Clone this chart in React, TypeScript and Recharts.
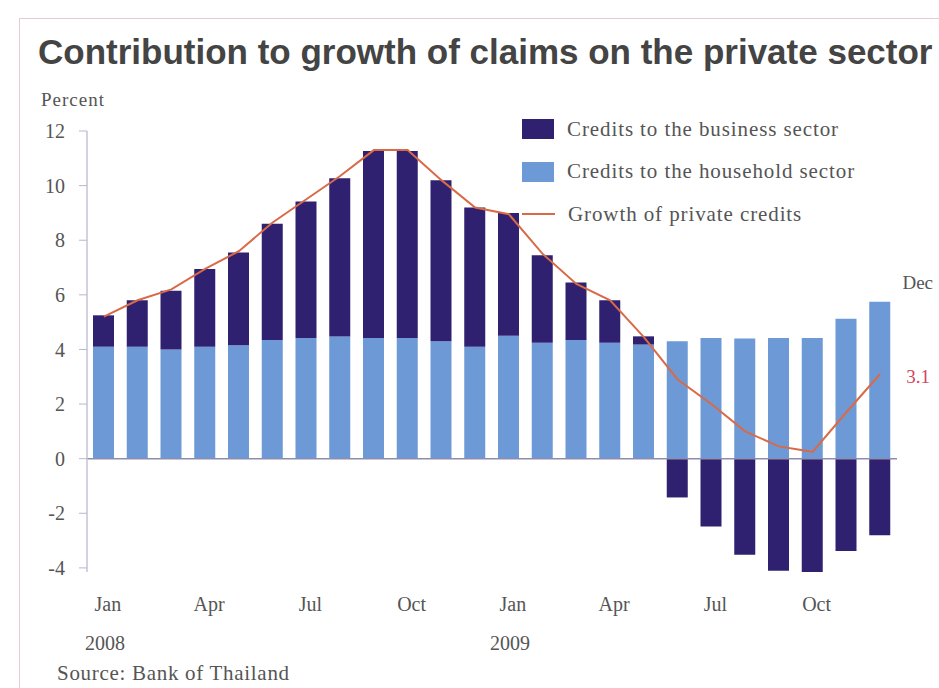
import {
  ComposedChart,
  Bar,
  Line,
  XAxis,
  YAxis,
  ReferenceLine,
  LabelList,
} from 'recharts';

const months = [
  'Jan', 'Feb', 'Mar', 'Apr', 'May', 'Jun', 'Jul', 'Aug', 'Sep', 'Oct', 'Nov', 'Dec',
  'Jan', 'Feb', 'Mar', 'Apr', 'May', 'Jun', 'Jul', 'Aug', 'Sep', 'Oct', 'Nov', 'Dec',
];
const years = [
  '2008', '', '', '', '', '', '', '', '', '', '', '',
  '2009', '', '', '', '', '', '', '', '', '', '', '',
];
const household = [
  4.1, 4.1, 4.0, 4.1, 4.15, 4.35, 4.42, 4.47, 4.42, 4.42, 4.3, 4.1,
  4.5, 4.25, 4.35, 4.25, 4.18, 4.3, 4.42, 4.4, 4.42, 4.42, 5.12, 5.75,
];
const business = [
  1.15, 1.7, 2.15, 2.85, 3.4, 4.25, 5.0, 5.8, 6.85, 6.85, 5.9, 5.1,
  4.5, 3.2, 2.1, 1.55, 0.3, -1.42, -2.48, -3.52, -4.1, -4.15, -3.38, -2.8,
];
const growth = [
  5.2, 5.8, 6.2, 6.95, 7.6, 8.65, 9.5, 10.35, 11.3, 11.3, 10.2, 9.2,
  8.95, 7.5, 6.4, 5.8, 4.45, 2.9, 2.0, 1.0, 0.45, 0.25, 1.7, 3.1,
];
const yTicks = [-4, -2, 0, 2, 4, 6, 8, 10, 12];
const shownMonths = ['Jan', 'Apr', 'Jul', 'Oct'];

const data = months.map((m, i) => ({
  key: `${m}-${i}`,
  month: m,
  year: years[i],
  household: household[i],
  business: business[i],
  growth: growth[i],
}));

const serif = '"Liberation Serif", "DejaVu Serif", serif';
const textGrey = '#555';
const navy = '#2f2170';
const lightBlue = '#6d9ad6';
const lineColor = '#d96a48';

const MonthTick = (props: any) => {
  const { x, y, payload } = props;
  const d = data[payload.index];
  if (!d || !shownMonths.includes(d.month)) return null;
  return (
    <g>
      <text x={x + 4} y={y} dy={31} textAnchor="middle" fontFamily={serif} fontSize={20} fill={textGrey}>
        {d.month}
      </text>
      {d.year && (
        <text x={x + 1} y={y} dy={70} textAnchor="middle" fontFamily={serif} fontSize={20} fill={textGrey}>
          {d.year}
        </text>
      )}
    </g>
  );
};

const DecLabel = (props: any) => {
  const { x, y, width, index } = props;
  if (index !== data.length - 1) return null;
  return (
    <text x={x + width / 2 + 38} y={y - 13} textAnchor="middle" fontFamily={serif} fontSize={19} fill={textGrey}>
      Dec
    </text>
  );
};

const LastValueLabel = (props: any) => {
  const { x, y, index, value } = props;
  if (index !== data.length - 1) return null;
  return (
    <text x={x + 38} y={y + 9} textAnchor="middle" fontFamily={serif} fontSize={19} fill="#d0455a">
      {value}
    </text>
  );
};

const legendItems = [
  { label: 'Credits to the business sector', color: navy, kind: 'box' },
  { label: 'Credits to the household sector', color: lightBlue, kind: 'box' },
  { label: 'Growth of private credits', color: lineColor, kind: 'line' },
];

export default function App() {
  return (
    <div
      style={{
        position: 'absolute',
        left: 0,
        top: 0,
        width: 939,
        height: 688,
        background: '#fff',
        overflow: 'hidden',
        fontFamily: serif,
      }}
    >
      <div
        style={{
          position: 'absolute',
          left: 19,
          top: 18,
          width: 960,
          height: 720,
          border: '1.5px solid #e9c9d2',
        }}
      />
      <div
        style={{
          position: 'absolute',
          left: 38,
          top: 34,
          fontFamily: '"Liberation Sans", Arial, sans-serif',
          fontWeight: 'bold',
          fontSize: 35,
          lineHeight: '36px',
          color: '#444',
          whiteSpace: 'nowrap',
        }}
      >
        Contribution to growth of claims on the private sector
      </div>
      <div style={{ position: 'absolute', left: 41, top: 89, fontSize: 19, letterSpacing: 1, color: textGrey }}>
        Percent
      </div>
      <div
        style={{
          position: 'absolute',
          left: 57,
          top: 661,
          fontSize: 21,
          letterSpacing: 0.7,
          color: textGrey,
          whiteSpace: 'nowrap',
        }}
      >
        Source: Bank of Thailand
      </div>
      <div style={{ position: 'absolute', left: 522, top: 108 }}>
        {legendItems.map((it) => (
          <div key={it.label} style={{ display: 'flex', alignItems: 'center', height: 42.5 }}>
            {it.kind === 'box' ? (
              <div style={{ width: 32, height: 20, background: it.color }} />
            ) : (
              <div style={{ width: 33, height: 2, background: it.color }} />
            )}
            <span
              style={{ marginLeft: 13, fontSize: 21, letterSpacing: 0.9, color: textGrey, whiteSpace: 'nowrap' }}
            >
              {it.label}
            </span>
          </div>
        ))}
      </div>
      <div style={{ position: 'absolute', left: 0, top: 0 }}>
        <ComposedChart
          width={939}
          height={688}
          data={data}
          stackOffset="sign"
          margin={{ top: 131, right: 42, left: 47, bottom: 86 }}
        >
          <XAxis
            dataKey="key"
            axisLine={false}
            tickLine={false}
            interval={0}
            height={30}
            tick={<MonthTick />}
          />
          <YAxis
            width={40}
            domain={[-4, 12]}
            ticks={yTicks}
            interval={0}
            axisLine={{ stroke: '#c3c3da', strokeWidth: 1.5 }}
            tickLine={{ stroke: '#b8b8cc' }}
            tickSize={8}
            tickMargin={14}
            tick={{ fontFamily: serif, fontSize: 20, fill: textGrey }}
          />
          <Bar dataKey="household" stackId="a" fill={lightBlue} barSize={21} isAnimationActive={false}>
            <LabelList dataKey="household" content={<DecLabel />} />
          </Bar>
          <Bar dataKey="business" stackId="a" fill={navy} barSize={21} isAnimationActive={false} />
          <ReferenceLine y={0} stroke="#8d8db0" strokeWidth={1.5} />
          <Line
            type="linear"
            dataKey="growth"
            stroke={lineColor}
            strokeWidth={2}
            dot={false}
            activeDot={false}
            isAnimationActive={false}
          >
            <LabelList dataKey="growth" content={<LastValueLabel />} />
          </Line>
        </ComposedChart>
      </div>
    </div>
  );
}
